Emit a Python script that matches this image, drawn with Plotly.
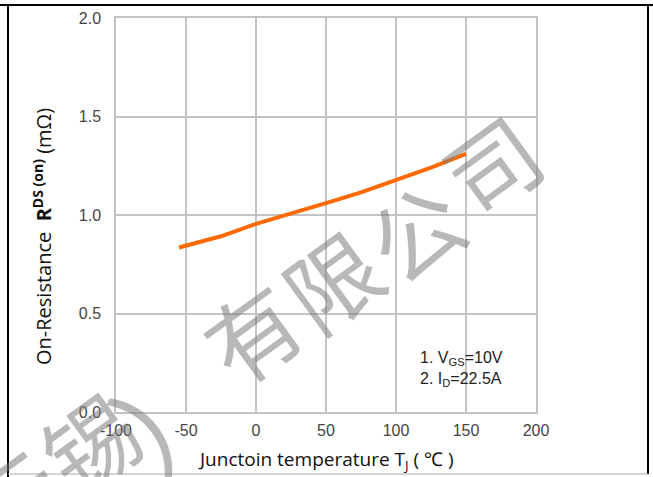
import plotly.graph_objects as go

temps = [-55, -25, 0, 25, 50, 75, 100, 125, 150]
rds_on = [0.835, 0.892, 0.955, 1.005, 1.06, 1.115, 1.175, 1.24, 1.31]
x_ticks = [-100, -50, 0, 50, 100, 150, 200]
y_ticks = [0.0, 0.5, 1.0, 1.5, 2.0]
watermark = ["无", "锡", "）", "有", "限", "公", "司"]

W, H = 653, 477
L, R, T, B = 116, 536, 18, 412

def px(x):
    return (x - L) / (R - L)

def py(y):
    return (B - y) / (B - T)

fig = go.Figure()
fig.add_trace(go.Scatter(x=temps, y=rds_on, mode="lines",
                         line=dict(color="#ff6a00", width=4),
                         showlegend=False, hoverinfo="skip"))

grid = "#c4c4c4"
fig.update_layout(
    width=W, height=H,
    margin=dict(l=L, r=W - R, t=T, b=H - B, autoexpand=False),
    paper_bgcolor="white", plot_bgcolor="white",
    font=dict(family="Liberation Sans, Arial", color="#444444", size=16),
    xaxis=dict(range=[-100, 200], tickvals=x_ticks, ticktext=[str(v) for v in x_ticks],
               showgrid=True, gridcolor=grid, gridwidth=1.5, zeroline=False,
               showline=True, linecolor=grid, linewidth=1.5, mirror=True, ticks="", ticklen=0,
               ticklabelstandoff=3),
    yaxis=dict(range=[0, 2.0], tickvals=y_ticks, ticktext=[f"{v:.1f}" for v in y_ticks],
               showgrid=True, gridcolor=grid, gridwidth=1.5, zeroline=False,
               showline=True, linecolor=grid, linewidth=1.5, mirror=True, ticks="", ticklen=0,
               ticklabelstandoff=10),
)

# watermark
wm_pos = [(12, 497), (88, 440), (172, 410), (250, 330), (330, 278), (413, 229), (490, 162)]
wm_size = [92, 92, 110, 92, 92, 92, 92]
for ch, (x, y), s in zip(watermark, wm_pos, wm_size):
    fig.add_annotation(x=px(x), y=py(y), xref="paper", yref="paper", text=ch,
                       xanchor="center", yanchor="middle",
                       showarrow=False, textangle=-36,
                       font=dict(family="Noto Sans CJK SC", size=s, color="rgba(125,125,125,0.55)"))

# axis titles
fig.add_annotation(x=px(42), y=py(237), xref="paper", yref="paper", textangle=-90,
                   xanchor="center", yanchor="middle",
                   text="On-Resistance  <b>R</b><sup><b>DS (on)</b></sup> (mΩ)",
                   showarrow=False, font=dict(family="Open Sans", size=20, color="#111111"))
fig.add_annotation(x=px(326), y=py(460), xref="paper", yref="paper",
                   xanchor="center", yanchor="middle",
                   text="Junctoin temperature T<sub>J</sub> ( ℃ )",
                   showarrow=False, font=dict(family="Open Sans", size=19, color="#111111"))

# conditions note
fig.add_annotation(x=px(418), y=py(369), xref="paper", yref="paper", xanchor="left",
                   yanchor="middle", align="left",
                   text="1. V<sub>GS</sub>=10V<br>2. I<sub>D</sub>=22.5A",
                   showarrow=False, font=dict(family="Liberation Sans", size=16, color="#222222"))

# outer frame lines
fig.add_shape(type="line", xref="paper", yref="paper", x0=px(0), x1=px(653), y0=py(5), y1=py(5),
              line=dict(color="black", width=2))
fig.add_shape(type="line", xref="paper", yref="paper", x0=px(8), x1=px(8), y0=py(5), y1=py(477),
              line=dict(color="black", width=2))
fig.add_shape(type="line", xref="paper", yref="paper", x0=px(648), x1=px(648), y0=py(5), y1=py(474),
              line=dict(color="black", width=2))
fig.add_shape(type="line", xref="paper", yref="paper", x0=px(8), x1=px(648), y0=py(474), y1=py(474),
              line=dict(color="#aaaaaa", width=1))

fig.write_html("out.html", config={"displayModeBar": False},
               post_script="document.body.style.margin='0';")
